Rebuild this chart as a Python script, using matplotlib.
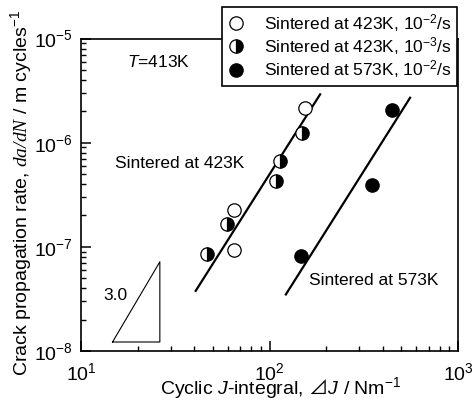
import matplotlib
matplotlib.use("Agg")
import matplotlib.pyplot as plt

# data (J in N/m, rate in m/cycle)
J_open = [154.6, 65.1, 64.9]
rate_open = [2.13e-6, 2.25e-7, 9.3e-8]

J_half = [149.5, 113.8, 108.0, 59.3, 46.8]
rate_half = [1.23e-6, 6.65e-7, 4.3e-7, 1.64e-7, 8.45e-8]

J_fill = [146.2, 349.0, 445.7]
rate_fill = [8.15e-8, 3.96e-7, 2.05e-6]

# fitted lines (end points)
fit423_J = [40.6, 185.6]
fit423_rate = [3.78e-8, 2.91e-6]
fit573_J = [122.1, 557.0]
fit573_rate = [3.49e-8, 2.70e-6]

# slope triangle
tri_J = [14.7, 26.2, 26.2, 14.7]
tri_rate = [1.22e-8, 1.22e-8, 7.18e-8, 1.22e-8]

labels = ['Sintered at 423K, 10$^{-2}$/s',
          'Sintered at 423K, 10$^{-3}$/s',
          'Sintered at 573K, 10$^{-2}$/s']

plt.rcParams['font.family'] = ['Liberation Sans', 'DejaVu Sans']
plt.rcParams['mathtext.fontset'] = 'custom'
plt.rcParams['mathtext.rm'] = 'Liberation Sans'
plt.rcParams['mathtext.it'] = 'Liberation Sans:italic'
plt.rcParams['mathtext.cal'] = 'Liberation Serif:italic'
plt.rcParams['mathtext.sf'] = 'Noto Sans CJK JP'
plt.rcParams['mathtext.default'] = 'regular'
plt.rcParams['axes.unicode_minus'] = False

fig = plt.figure(figsize=(4.73, 4.03), dpi=100)
ax = fig.add_axes([81 / 473, 52 / 403, 377 / 473, 312.5 / 403])

ms = 9.6
mew = 0.9
h1, = ax.plot(J_open, rate_open, 'o', ms=ms, mfc='white', mec='black', mew=mew, zorder=3)
h2, = ax.plot(J_half, rate_half, 'o', ms=ms, fillstyle='right', mfc='black',
              markerfacecoloralt='white', mec='black', mew=mew, zorder=3)
h3, = ax.plot(J_fill, rate_fill, 'o', ms=ms, mfc='black', mec='black', mew=mew, zorder=3)

ax.plot(fit423_J, fit423_rate, 'k-', lw=1.6)
ax.plot(fit573_J, fit573_rate, 'k-', lw=1.6)
ax.plot(tri_J, tri_rate, 'k-', lw=0.8)

ax.set_xscale('log')
ax.set_yscale('log')
ax.set_xlim(10, 1000)
ax.set_ylim(1e-8, 1e-5)

for s in ax.spines.values():
    s.set_linewidth(1.2)

ax.tick_params(which='both', direction='in', top=False, right=False, labelsize=14)
ax.tick_params(which='major', length=7.5, width=1.1)
ax.tick_params(which='minor', length=3.6, width=1.0)
ax.tick_params(axis='x', pad=8)
ax.tick_params(axis='y', pad=6)

ax.set_xlabel('Cyclic $\\mathit{J}$-integral, $\\mathsf{\u22bf}\\mathit{J}$ / Nm$^{-1}$',
              fontsize=14, va='baseline')
ax.xaxis.set_label_coords(0.53, -0.137)
ax.set_ylabel('Crack propagation rate, $\\mathcal{da/dN}$ / m cycles$^{-1}$', fontsize=14)
ax.yaxis.set_label_coords(-0.125, 0.505)

ax.text(0.122, 0.925, '$\\mathit{T}$=413K', transform=ax.transAxes, fontsize=12.5, va='center')
ax.text(0.090, 0.6, 'Sintered at 423K', transform=ax.transAxes, fontsize=12.5, va='center')
ax.text(0.605, 0.227, 'Sintered at 573K', transform=ax.transAxes, fontsize=12.5, va='center')
ax.text(0.092, 0.179, '3.0', transform=ax.transAxes, fontsize=12.5, va='center', ha='center')

leg = ax.legend([h1, h2, h3], labels, loc='upper right',
                bbox_to_anchor=(457 / 473, 1 - 6.7 / 403), bbox_transform=fig.transFigure,
                borderaxespad=0, fontsize=12.5, fancybox=False, framealpha=1,
                edgecolor='black', borderpad=0.3, handlelength=1.0,
                handletextpad=1.1, labelspacing=0.08)
leg.get_frame().set_linewidth(1.2)

fig.savefig('out.png', dpi=100)
